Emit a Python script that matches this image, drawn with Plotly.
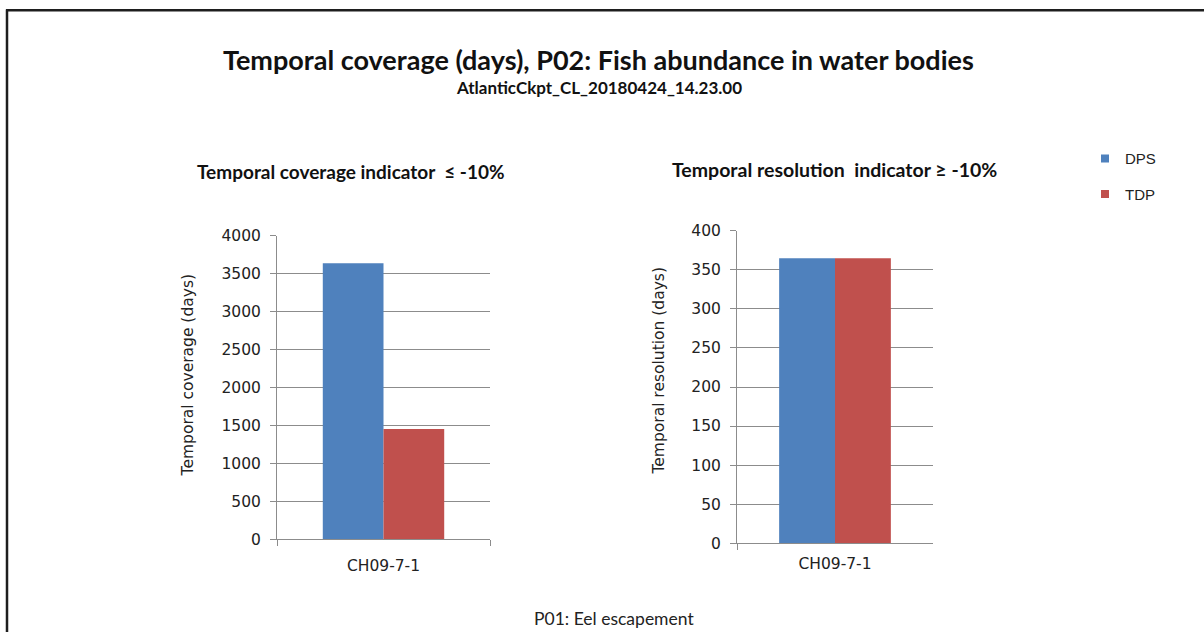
import plotly.graph_objects as go

categories = ["CH09-7-1"]
series_names = ["DPS", "TDP"]
coverage_values = {"DPS": [3640], "TDP": [1455]}
resolution_values = {"DPS": [365], "TDP": [365]}
colors = {"DPS": "#4F81BD", "TDP": "#C0504D"}
cov_ticks = [0, 500, 1000, 1500, 2000, 2500, 3000, 3500, 4000]
res_ticks = [0, 50, 100, 150, 200, 250, 300, 350, 400]

W, H = 1204, 641
def px(x): return x / W
def py(y): return 1 - y / H

fig = go.Figure()
for name in series_names:
    fig.add_trace(go.Bar(x=categories, y=coverage_values[name], name=name,
                         marker=dict(color=colors[name], line=dict(width=0)),
                         xaxis="x", yaxis="y", showlegend=False))
for name in series_names:
    fig.add_trace(go.Bar(x=categories, y=resolution_values[name], name=name,
                         marker=dict(color=colors[name], line=dict(width=0)),
                         xaxis="x2", yaxis="y2", showlegend=False))
# legend entries (small squares like the original)
for name in series_names:
    fig.add_trace(go.Scatter(x=[None], y=[None], name=name, mode="markers",
                             marker=dict(symbol="square", size=8, color=colors[name]),
                             xaxis="x2", yaxis="y2", legendgroup=name, showlegend=True))

grid = "#8C8C8C"
tickfont = dict(family="DejaVu Sans", size=15.5, color="#222")
common_x = dict(type="category", showline=True, linecolor=grid, linewidth=1,
                ticks="outside", tickson="boundaries", ticklen=6, tickcolor=grid,
                tickfont=tickfont, showgrid=False, fixedrange=True)
common_y = dict(showline=True, linecolor=grid, linewidth=1, showgrid=True,
                gridcolor=grid, gridwidth=1, ticks="outside", ticklen=6, tickcolor=grid,
                tickfont=tickfont, zeroline=False, ticklabelstandoff=6, fixedrange=True)

fig.update_layout(
    width=W, height=H,
    margin=dict(l=0, r=0, t=0, b=0),
    paper_bgcolor="white", plot_bgcolor="white",
    barmode="group", bargap=0.43, bargroupgap=0,
    xaxis=dict(domain=[px(277), px(490)], anchor="y", ticklabelstandoff=12, **common_x),
    yaxis=dict(domain=[py(545.6), py(233.4)], anchor="x", range=[0, 4000],
               tickvals=cov_ticks, **common_y),
    xaxis2=dict(domain=[px(737), px(933)], anchor="y2", ticklabelstandoff=6, **common_x),
    yaxis2=dict(domain=[py(549.6), py(228.3)], anchor="x2", range=[0, 400],
                tickvals=res_ticks, **common_y),
    legend=dict(x=px(1085), y=py(137), xanchor="left", yanchor="top",
                font=dict(family="Liberation Sans", size=15, color="#222"),
                tracegroupgap=13, itemwidth=30, bgcolor="rgba(0,0,0,0)"),
    showlegend=True,
)

ann = [
    dict(text="<b>Temporal coverage (days), P02: Fish abundance in water bodies</b>",
         x=px(598), y=py(52), font=dict(family="Lato", size=27, color="#111")),
    dict(text="<b>AtlanticCkpt_CL_20180424_14.23.00</b>",
         x=px(599), y=py(81), font=dict(family="Lato", size=17, color="#111")),
    dict(text="<b>Temporal coverage indicator  ≤ -10%</b>",
         x=px(351), y=py(167), font=dict(family="Lato", size=19, color="#111")),
    dict(text="<b>Temporal resolution  indicator ≥ -10%</b>",
         x=px(834), y=py(165), font=dict(family="Lato", size=19.5, color="#111")),
    dict(text="Temporal coverage (days)", textangle=-90,
         x=px(188), y=py(377), font=dict(family="DejaVu Sans", size=15.5, color="#222")),
    dict(text="Temporal resolution (days)", textangle=-90,
         x=px(659), y=py(373), font=dict(family="DejaVu Sans", size=15.5, color="#222")),
    dict(text="P01: Eel escapement",
         x=px(614), y=py(627), font=dict(family="Lato", size=17.5, color="#222")),
]
for a in ann:
    fig.add_annotation(xref="paper", yref="paper", showarrow=False,
                       xanchor="center", yanchor="middle", **a)

border = "#1E1E1E"
fig.add_shape(type="line", xref="paper", yref="paper",
              x0=px(6), x1=1.0, y0=py(1.3), y1=py(1.3), line=dict(color=border, width=2.5))
fig.add_shape(type="line", xref="paper", yref="paper",
              x0=px(7), x1=px(7), y0=py(0.5), y1=0.0, line=dict(color=border, width=2.5))

fig.write_html("out.html", config={"displayModeBar": False},
               post_script="document.body.style.margin='0';"
                           "document.documentElement.style.overflow='hidden';"
                           "document.body.style.overflow='hidden';")
